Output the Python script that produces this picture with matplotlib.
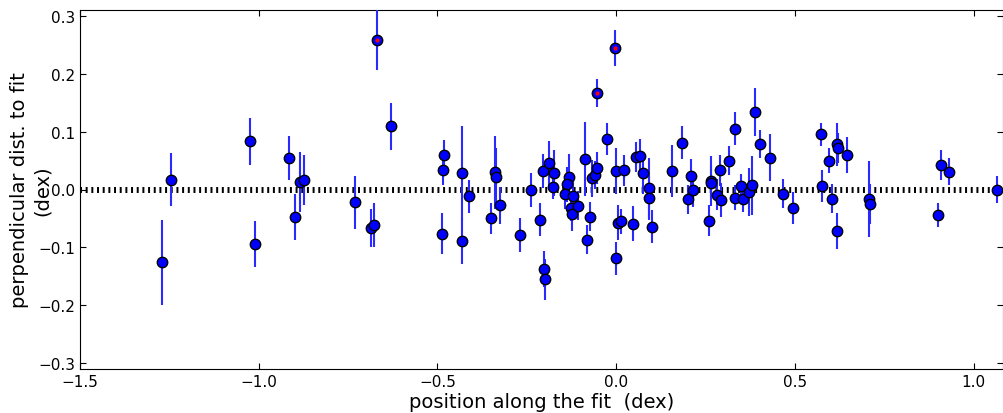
import matplotlib
matplotlib.use("Agg")
import matplotlib.pyplot as plt

# Data: position along the fit, perpendicular distance, error
pos = [
    -1.271, -1.245, -1.025, -1.010, -0.915, -0.898, -0.884, -0.873, -0.730, -0.687,
    -0.678, -0.670, -0.629, -0.485, -0.482, -0.487, -0.432, -0.431, -0.411, -0.339,
    -0.336, -0.350, -0.325, -0.269, -0.238, -0.214, -0.205, -0.189, -0.174, -0.178,
    -0.202, -0.198, -0.131, -0.137, -0.143, -0.120, -0.126, -0.124, -0.107, -0.087,
    -0.068, -0.060, -0.053, -0.072, -0.082, -0.055, -0.025, -0.003, 0.000, 0.022,
    -0.001, 0.004, 0.014, 0.046, 0.054, 0.066, 0.074, 0.092, 0.091, 0.099,
    0.156, 0.184, 0.210, 0.216, 0.201, 0.260, 0.264, 0.266, 0.282, 0.293,
    0.290, 0.316, 0.333, 0.333, 0.349, 0.355, 0.372, 0.380, 0.387, 0.403,
    0.429, 0.466, 0.494, 0.574, 0.577, 0.596, 0.619, 0.620, 0.645, 0.604,
    0.617, 0.707, 0.709, 0.900, 0.908, 0.932, 1.064,
]
dist = [
    -0.126, 0.017, 0.083, -0.094, 0.055, -0.048, 0.013, 0.017, -0.022, -0.067,
    -0.061, 0.259, 0.109, 0.033, 0.059, -0.076, 0.029, -0.089, -0.012, 0.030,
    0.022, -0.050, -0.027, -0.079, -0.001, -0.052, 0.032, 0.045, 0.028, 0.005,
    -0.137, -0.155, 0.022, 0.009, -0.007, -0.012, -0.032, -0.043, -0.028, 0.052,
    0.019, 0.025, 0.037, -0.047, -0.087, 0.166, 0.087, 0.245, 0.032, 0.033,
    -0.119, -0.057, -0.055, -0.059, 0.056, 0.057, 0.029, 0.002, -0.014, -0.064,
    0.032, 0.081, 0.024, -0.001, -0.017, -0.054, 0.015, 0.012, -0.009, -0.018,
    0.033, 0.050, 0.105, -0.014, 0.006, -0.017, -0.004, 0.007, 0.134, 0.078,
    0.055, -0.007, -0.032, 0.095, 0.006, 0.050, 0.078, 0.071, 0.059, -0.016,
    -0.071, -0.016, -0.025, -0.044, 0.043, 0.031, 0.000,
]
err = [
    0.073, 0.046, 0.040, 0.039, 0.038, 0.040, 0.052, 0.043, 0.046, 0.033,
    0.038, 0.052, 0.041, 0.025, 0.026, 0.035, 0.081, 0.040, 0.028, 0.063,
    0.049, 0.026, 0.032, 0.029, 0.030, 0.028, 0.029, 0.039, 0.040, 0.022,
    0.031, 0.035, 0.039, 0.030, 0.026, 0.030, 0.023, 0.029, 0.025, 0.064,
    0.032, 0.024, 0.028, 0.025, 0.025, 0.024, 0.027, 0.031, 0.039, 0.027,
    0.029, 0.030, 0.022, 0.030, 0.026, 0.030, 0.036, 0.052, 0.038, 0.029,
    0.045, 0.029, 0.028, 0.030, 0.025, 0.027, 0.043, 0.030, 0.027, 0.030,
    0.027, 0.025, 0.028, 0.022, 0.020, 0.022, 0.041, 0.051, 0.041, 0.024,
    0.041, 0.025, 0.027, 0.020, 0.027, 0.022, 0.037, 0.026, 0.031, 0.025,
    0.031, 0.066, 0.034, 0.020, 0.026, 0.024, 0.024,
]
# highlighted outliers (red centres)
red_pos = [-0.670, -0.055, -0.003]
red_dist = [0.259, 0.166, 0.245]

fig = plt.figure(figsize=(10.04, 4.14), dpi=100)
ax = fig.add_axes([80 / 1004, 44 / 414, 923 / 1004, 359 / 414])

ax.axhline(0, color="k", lw=4.3, linestyle=(0, (0.33, 0.62)), zorder=1)
ax.errorbar(pos, dist, yerr=err, fmt="o", color="b", ecolor="#2a2aff",
            elinewidth=1.5, capsize=0, ms=7.5, mec="k", mew=1, zorder=3)
ax.plot(red_pos, red_dist, "o", color="r", ms=3, mew=0, zorder=4)

ax.set_xlim(-1.5, 1.082)
ax.set_ylim(-0.31, 0.31)
ax.set_xticks([-1.5, -1.0, -0.5, 0.0, 0.5, 1.0])
ax.set_yticks([-0.3, -0.2, -0.1, 0.0, 0.1, 0.2, 0.3])
ax.tick_params(direction="in", top=True, right=True, length=4, labelsize=11)
ax.set_xlabel("position along the fit  (dex)", fontsize=14, labelpad=2)
ax.set_ylabel("perpendicular dist. to fit\n(dex)", fontsize=14)
ax.yaxis.set_label_coords(-0.031, 0.5)

fig.savefig("out.png", dpi=100)
